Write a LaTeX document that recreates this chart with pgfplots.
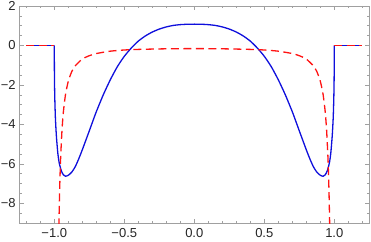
\documentclass[border=0pt]{standalone}
\usepackage{pgfplots}
\pgfplotsset{compat=1.18}
\usepackage{fontspec}
\setmainfont{Liberation Sans}
\definecolor{mblue}{RGB}{15,15,220}
\definecolor{mred}{RGB}{255,20,20}
\definecolor{framegray}{RGB}{160,160,160}
\begin{document}
\begin{tikzpicture}
\begin{axis}[
  at={(0,0)}, anchor=south west,
  scale only axis, width=350pt, height=217pt,
  xmin=-1.25, xmax=1.25, ymin=-9, ymax=2,
  axis line style={framegray, line width=0.6pt},
  every tick/.style={framegray, line width=0.5pt},
  tick align=inside,
  major tick length=4.5pt, minor tick length=2.5pt,
  xtick={-1,-0.5,0,0.5,1},
  xticklabels={−1.0,−0.5,0.0,0.5,1.0},
  minor xtick={-1.2,-1.1,-0.9,-0.8,-0.7,-0.6,-0.4,-0.3,-0.2,-0.1,0.1,0.2,0.3,0.4,0.6,0.7,0.8,0.9,1.1,1.2},
  ytick={-8,-6,-4,-2,0,2},
  yticklabels={−8,−6,−4,−2,0,2},
  minor ytick={-8.5,-7.5,-7,-6.5,-5.5,-5,-4.5,-3.5,-3,-2.5,-1.5,-1,-0.5,0.5,1,1.5},
  tick label style={font=\fontsize{13}{15}\selectfont, text=black!85},
  xticklabel style={inner sep=0pt, yshift=-5pt},
  yticklabel style={inner sep=0pt, xshift=-3.5pt},
  clip=true,
]
% blue solid
\addplot[mblue, line width=1.3pt] coordinates {(-1.2,0) (-1.0,0)};
\addplot[mblue, line width=1.3pt] coordinates {(1.0,0) (1.2,0)};
\addplot[mblue, line width=1.3pt, smooth, tension=0.4] coordinates {
(-1.0,0) (-0.9995,-1.1) (-0.999,-1.5) (-0.998,-2.1) (-0.996,-2.8) (-0.992,-3.7)
(-0.985,-4.6) (-0.975,-5.45) (-0.965,-5.95) (-0.95,-6.35) (-0.935,-6.56)
(-0.92,-6.63) (-0.9,-6.58) (-0.875,-6.42) (-0.85,-6.14) (-0.825,-5.74)
(-0.8,-5.29) (-0.775,-4.81) (-0.75,-4.33) (-0.725,-3.84) (-0.7,-3.36)
(-0.65,-2.5) (-0.6,-1.74) (-0.55,-1.08) (-0.5,-0.55) (-0.45,-0.13)
(-0.4,0.22) (-0.35,0.48) (-0.3,0.68) (-0.25,0.83) (-0.2,0.94) (-0.15,1.015) (-0.1,1.055) (-0.05,1.075) (0,1.08)
(0.05,1.075) (0.1,1.055) (0.15,1.015) (0.2,0.94) (0.25,0.83) (0.3,0.68) (0.35,0.48) (0.4,0.22)
(0.45,-0.13) (0.5,-0.55) (0.55,-1.08) (0.6,-1.74) (0.65,-2.5)
(0.7,-3.36) (0.725,-3.84) (0.75,-4.33) (0.775,-4.81) (0.8,-5.29)
(0.825,-5.74) (0.85,-6.14) (0.875,-6.42) (0.9,-6.58) (0.92,-6.63)
(0.935,-6.56) (0.95,-6.35) (0.965,-5.95) (0.975,-5.45) (0.985,-4.6)
(0.992,-3.7) (0.996,-2.8) (0.998,-2.1) (0.999,-1.5) (0.9995,-1.1) (1.0,0)
};
% red dashed
\addplot[mred, line width=1.3pt, dash pattern=on 8pt off 4.5pt] coordinates {(-1.2,0) (-1.0,0)};
\addplot[mred, line width=1.3pt, dash pattern=on 8pt off 4.5pt] coordinates {(1.0,0) (1.2,0)};
\addplot[mred, line width=1.3pt, dash pattern=on 8pt off 4.5pt, smooth, tension=0.4] coordinates {
(-0.97,-10.44) (-0.967,-9.07) (-0.962,-7.37) (-0.955,-5.75) (-0.945,-4.29)
(-0.935,-3.36) (-0.92,-2.49) (-0.9,-1.81) (-0.875,-1.32) (-0.85,-1.03)
(-0.8,-0.69) (-0.75,-0.52) (-0.7,-0.41) (-0.6,-0.29) (-0.5,-0.23)
(-0.4,-0.2) (-0.2,-0.17) (0,-0.16) (0.2,-0.17) (0.4,-0.2) (0.5,-0.23)
(0.6,-0.29) (0.7,-0.41) (0.75,-0.52) (0.8,-0.69) (0.85,-1.03)
(0.875,-1.32) (0.9,-1.81) (0.92,-2.49) (0.935,-3.36) (0.945,-4.29)
(0.955,-5.75) (0.962,-7.37) (0.967,-9.07) (0.97,-10.44)
};
\end{axis}
\pgfresetboundingbox
\useasboundingbox (-19.3pt,-18pt) rectangle (351.7pt,223pt);
\end{tikzpicture}
\end{document}
